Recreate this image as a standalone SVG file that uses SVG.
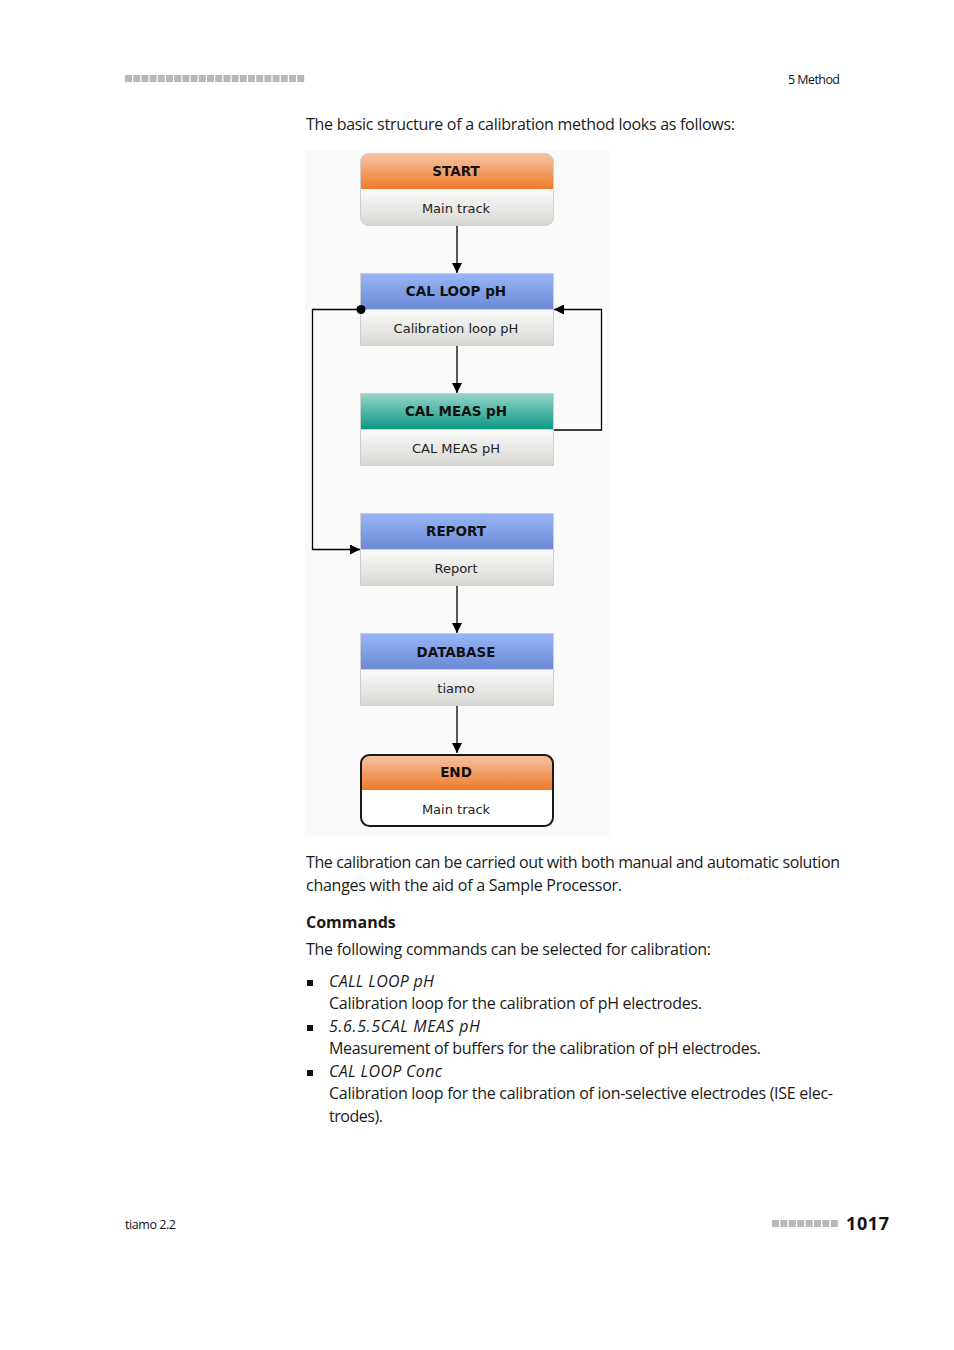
<svg xmlns="http://www.w3.org/2000/svg" width="954" height="1350" viewBox="0 0 954 1350">
<defs>
<linearGradient id="gOrange" x1="0" y1="0" x2="0" y2="1"><stop offset="0" stop-color="#f6c6a6"/><stop offset="1" stop-color="#ef7a2c"/></linearGradient>
<linearGradient id="gBlue" x1="0" y1="0" x2="0" y2="1"><stop offset="0" stop-color="#97b5f6"/><stop offset="1" stop-color="#6b89d5"/></linearGradient>
<linearGradient id="gTeal" x1="0" y1="0" x2="0" y2="1"><stop offset="0" stop-color="#95d5c8"/><stop offset="1" stop-color="#0b9886"/></linearGradient>
<linearGradient id="gBody" x1="0" y1="0" x2="0" y2="1"><stop offset="0" stop-color="#fbfbfa"/><stop offset="1" stop-color="#d6d6d2"/></linearGradient>
<marker id="arr" viewBox="0 0 10 10" refX="10" refY="5" markerWidth="10" markerHeight="10" markerUnits="userSpaceOnUse" orient="auto"><path d="M0,0 L10,5 L0,10 z" fill="#000"/></marker>
<clipPath id="cStart"><rect x="360" y="153" width="194" height="73" rx="9"/></clipPath>
<clipPath id="cEnd"><rect x="360" y="754" width="194" height="73" rx="9"/></clipPath>
</defs>
<style>
.p{font-family:"Open Sans","Noto Sans",sans-serif;font-size:16px;fill:#1a1a1a}
.hd{font-family:"DejaVu Sans",Verdana,sans-serif;font-size:13.5px;font-weight:bold;fill:#111;text-anchor:middle}
.bd{font-family:"DejaVu Sans",Verdana,sans-serif;font-size:13px;fill:#222;text-anchor:middle}
.box{stroke:#cfcfcf;stroke-width:1}
.ln{stroke:#000;stroke-width:1.3;fill:none}
.sq{fill:#b8b8b8}
</style>
<!-- page header -->
<g id="header">
<g class="sq">
<rect x="125" y="75" width="7" height="7"/><rect x="133.2" y="75" width="7" height="7"/><rect x="141.4" y="75" width="7" height="7"/><rect x="149.6" y="75" width="7" height="7"/><rect x="157.8" y="75" width="7" height="7"/><rect x="166" y="75" width="7" height="7"/><rect x="174.2" y="75" width="7" height="7"/><rect x="182.4" y="75" width="7" height="7"/><rect x="190.6" y="75" width="7" height="7"/><rect x="198.8" y="75" width="7" height="7"/><rect x="207" y="75" width="7" height="7"/><rect x="215.2" y="75" width="7" height="7"/><rect x="223.4" y="75" width="7" height="7"/><rect x="231.6" y="75" width="7" height="7"/><rect x="239.8" y="75" width="7" height="7"/><rect x="248" y="75" width="7" height="7"/><rect x="256.2" y="75" width="7" height="7"/><rect x="264.4" y="75" width="7" height="7"/><rect x="272.6" y="75" width="7" height="7"/><rect x="280.8" y="75" width="7" height="7"/><rect x="289" y="75" width="7" height="7"/><rect x="297.2" y="75" width="7" height="7"/>
</g>
<text x="840" y="84" font-family="'Open Sans','Noto Sans',sans-serif" font-size="12.5" fill="#111" text-anchor="end" textLength="52">5 Method</text>
</g>
<text class="p" x="306" y="130" textLength="429">The basic structure of a calibration method looks as follows:</text>
<!-- diagram background -->
<rect x="305" y="150" width="305" height="686" fill="#fafafa"/>
<!-- nodes -->
<g id="node-start">
<g clip-path="url(#cStart)">
<rect x="360" y="153" width="194" height="36" fill="url(#gOrange)"/>
<rect x="360" y="189" width="194" height="37" fill="url(#gBody)"/>
</g>
<rect x="360.5" y="153.5" width="193" height="72" rx="9" fill="none" stroke="#cfcfcf"/>
<text class="hd" x="456" y="176">START</text>
<text class="bd" x="456" y="213">Main track</text>
</g>
<g id="node-calloop">
<rect class="box" x="360.5" y="273.5" width="193" height="36" fill="url(#gBlue)"/>
<rect class="box" x="360.5" y="309.5" width="193" height="36" fill="url(#gBody)"/>
<text class="hd" x="456" y="296">CAL LOOP pH</text>
<text class="bd" x="456" y="333">Calibration loop pH</text>
</g>
<g id="node-calmeas">
<rect class="box" x="360.5" y="393.5" width="193" height="36" fill="url(#gTeal)"/>
<rect class="box" x="360.5" y="429.5" width="193" height="36" fill="url(#gBody)"/>
<text class="hd" x="456" y="416">CAL MEAS pH</text>
<text class="bd" x="456" y="453">CAL MEAS pH</text>
</g>
<g id="node-report">
<rect class="box" x="360.5" y="513.5" width="193" height="36" fill="url(#gBlue)"/>
<rect class="box" x="360.5" y="549.5" width="193" height="36" fill="url(#gBody)"/>
<text class="hd" x="456" y="536">REPORT</text>
<text class="bd" x="456" y="573">Report</text>
</g>
<g id="node-database">
<rect class="box" x="360.5" y="633.5" width="193" height="36" fill="url(#gBlue)"/>
<rect class="box" x="360.5" y="669.5" width="193" height="36" fill="url(#gBody)"/>
<text class="hd" x="456" y="657">DATABASE</text>
<text class="bd" x="456" y="693">tiamo</text>
</g>
<g id="node-end">
<g clip-path="url(#cEnd)">
<rect x="360" y="754" width="194" height="36" fill="url(#gOrange)"/>
<rect x="360" y="790" width="194" height="37" fill="#ffffff"/>
</g>
<rect x="361" y="755" width="192" height="71" rx="8.5" fill="none" stroke="#1a1a1a" stroke-width="2"/>
<text class="hd" x="456" y="777">END</text>
<text class="bd" x="456" y="814">Main track</text>
</g>
<!-- connectors -->
<g id="connectors">
<line class="ln" x1="457" y1="226" x2="457" y2="273" marker-end="url(#arr)"/>
<line class="ln" x1="457" y1="346" x2="457" y2="393" marker-end="url(#arr)"/>
<line class="ln" x1="457" y1="586" x2="457" y2="633" marker-end="url(#arr)"/>
<line class="ln" x1="457" y1="706" x2="457" y2="753" marker-end="url(#arr)"/>
<polyline class="ln" points="360,309.5 312.5,309.5 312.5,549.5 360,549.5" marker-end="url(#arr)"/>
<polyline class="ln" points="554,430 601.5,430 601.5,309.5 554,309.5" marker-end="url(#arr)"/>
<circle cx="361" cy="309.5" r="4.5" fill="#000"/>
</g>
<!-- body text -->
<text class="p" x="306" y="868" textLength="534">The calibration can be carried out with both manual and automatic solution</text>
<text class="p" x="306" y="891" textLength="316">changes with the aid of a Sample Processor.</text>
<text class="p" x="306" y="928" font-weight="bold">Commands</text>
<text class="p" x="306" y="955" textLength="405">The following commands can be selected for calibration:</text>
<rect x="307" y="980" width="6" height="6" fill="#111"/>
<text class="p" x="329" y="987" font-style="italic" textLength="105">CALL LOOP pH</text>
<text class="p" x="329" y="1009" textLength="373">Calibration loop for the calibration of pH electrodes.</text>
<rect x="307" y="1025" width="6" height="6" fill="#111"/>
<text class="p" x="329" y="1032" font-style="italic" textLength="151">5.6.5.5CAL MEAS pH</text>
<text class="p" x="329" y="1054" textLength="432">Measurement of buffers for the calibration of pH electrodes.</text>
<rect x="307" y="1070" width="6" height="6" fill="#111"/>
<text class="p" x="329" y="1077" font-style="italic" textLength="113">CAL LOOP Conc</text>
<text class="p" x="329" y="1099" textLength="504">Calibration loop for the calibration of ion-selective electrodes (ISE elec-</text>
<text class="p" x="329" y="1122" textLength="54">trodes).</text>
<!-- footer -->
<g id="footer">
<text x="125" y="1229" font-family="'Open Sans','Noto Sans',sans-serif" font-size="12.5" fill="#111" textLength="51">tiamo 2.2</text>
<g class="sq">
<rect x="772" y="1220" width="7" height="7"/><rect x="780.4" y="1220" width="7" height="7"/><rect x="788.8" y="1220" width="7" height="7"/><rect x="797.2" y="1220" width="7" height="7"/><rect x="805.6" y="1220" width="7" height="7"/><rect x="814" y="1220" width="7" height="7"/><rect x="822.4" y="1220" width="7" height="7"/><rect x="830.8" y="1220" width="7" height="7"/>
</g>
<text x="889" y="1230" font-family="'Open Sans','Noto Sans',sans-serif" font-size="18" font-weight="bold" fill="#111" text-anchor="end" textLength="43">1017</text>
</g>
</svg>
